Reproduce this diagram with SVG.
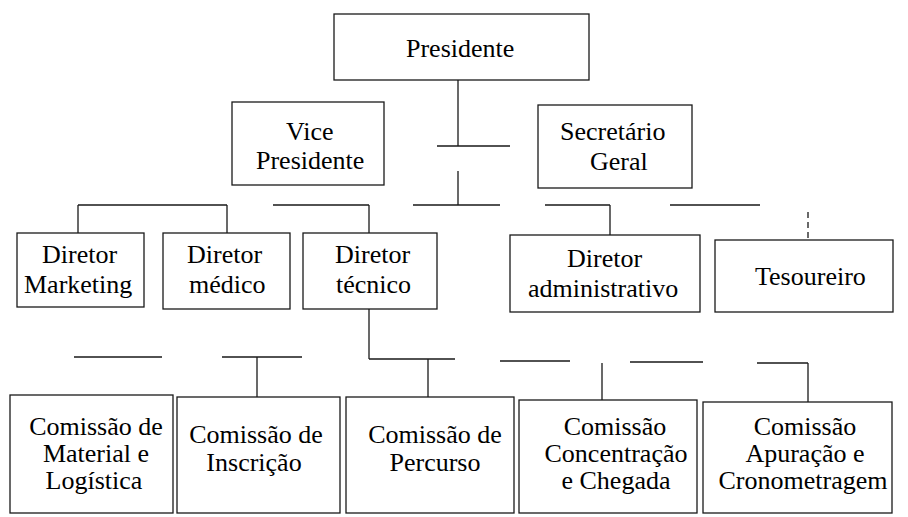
<svg xmlns="http://www.w3.org/2000/svg" width="908" height="517" viewBox="0 0 908 517">
<rect width="908" height="517" fill="#ffffff"/>
<g id="connectors" fill="none" stroke="#1a1a1a" stroke-width="1.3">
<path d="M458 80V146M437 146H510M458 171V205M413 205H500"/>
<path d="M78 205H227M78 205V233M227 205V233M273 205H369M369 205V233"/>
<path d="M545 205H610M610 205V235M670 205H760"/>
<path d="M808 212V240" stroke-dasharray="6 4"/>
<path d="M369 309V359M369 359H455M74 357H162M222 357H302M257 357V397M428 359V397"/>
<path d="M500 361H570M602 363V400M630 362H703M757 363H808M808 363V402"/>
</g>
<g id="presidente">
<rect x="334" y="14" width="255" height="66" fill="none" stroke="#1a1a1a" stroke-width="1.3"/>
<text x="406" y="57" font-family="Liberation Serif" font-size="26">Presidente</text>
</g>
<g id="vice-presidente">
<rect x="232" y="102" width="152" height="83" fill="none" stroke="#1a1a1a" stroke-width="1.3"/>
<text x="286" y="140" font-family="Liberation Serif" font-size="26">Vice</text>
<text x="256" y="169" font-family="Liberation Serif" font-size="26">Presidente</text>
</g>
<g id="secretario-geral">
<rect x="538" y="105" width="154" height="83" fill="none" stroke="#1a1a1a" stroke-width="1.3"/>
<text x="560" y="140" font-family="Liberation Serif" font-size="26">Secretário</text>
<text x="590" y="170" font-family="Liberation Serif" font-size="26">Geral</text>
</g>
<g id="diretor-marketing">
<rect x="17" y="233" width="127" height="74" fill="none" stroke="#1a1a1a" stroke-width="1.3"/>
<text x="42" y="263" font-family="Liberation Serif" font-size="26">Diretor</text>
<text x="24" y="293" font-family="Liberation Serif" font-size="26">Marketing</text>
</g>
<g id="diretor-medico">
<rect x="163" y="233" width="127" height="76" fill="none" stroke="#1a1a1a" stroke-width="1.3"/>
<text x="187" y="263" font-family="Liberation Serif" font-size="26">Diretor</text>
<text x="189" y="293" font-family="Liberation Serif" font-size="26">médico</text>
</g>
<g id="diretor-tecnico">
<rect x="303" y="233" width="134" height="76" fill="none" stroke="#1a1a1a" stroke-width="1.3"/>
<text x="335" y="263" font-family="Liberation Serif" font-size="26">Diretor</text>
<text x="336" y="293" font-family="Liberation Serif" font-size="26">técnico</text>
</g>
<g id="diretor-administrativo">
<rect x="510" y="235" width="190" height="77" fill="none" stroke="#1a1a1a" stroke-width="1.3"/>
<text x="567" y="267" font-family="Liberation Serif" font-size="26">Diretor</text>
<text x="528" y="297" font-family="Liberation Serif" font-size="26">administrativo</text>
</g>
<g id="tesoureiro">
<rect x="715" y="240" width="178" height="72" fill="none" stroke="#1a1a1a" stroke-width="1.3"/>
<text x="755" y="285" font-family="Liberation Serif" font-size="26">Tesoureiro</text>
</g>
<g id="comissao-material">
<rect x="10" y="395" width="163" height="118" fill="none" stroke="#1a1a1a" stroke-width="1.3"/>
<text x="96" y="435" font-family="Liberation Serif" font-size="26" text-anchor="middle">Comissão de</text>
<text x="96" y="462" font-family="Liberation Serif" font-size="26" text-anchor="middle">Material e</text>
<text x="94" y="489" font-family="Liberation Serif" font-size="26" text-anchor="middle">Logística</text>
</g>
<g id="comissao-inscricao">
<rect x="177" y="397" width="163" height="116" fill="none" stroke="#1a1a1a" stroke-width="1.3"/>
<text x="256" y="443" font-family="Liberation Serif" font-size="26" text-anchor="middle">Comissão de</text>
<text x="254" y="471" font-family="Liberation Serif" font-size="26" text-anchor="middle">Inscrição</text>
</g>
<g id="comissao-percurso">
<rect x="346" y="397" width="168" height="116" fill="none" stroke="#1a1a1a" stroke-width="1.3"/>
<text x="435" y="443" font-family="Liberation Serif" font-size="26" text-anchor="middle">Comissão de</text>
<text x="435" y="471" font-family="Liberation Serif" font-size="26" text-anchor="middle">Percurso</text>
</g>
<g id="comissao-concentracao">
<rect x="519" y="400" width="178" height="113" fill="none" stroke="#1a1a1a" stroke-width="1.3"/>
<text x="615" y="435" font-family="Liberation Serif" font-size="26" text-anchor="middle">Comissão</text>
<text x="616" y="462" font-family="Liberation Serif" font-size="26" text-anchor="middle">Concentração</text>
<text x="616" y="489" font-family="Liberation Serif" font-size="26" text-anchor="middle">e Chegada</text>
</g>
<g id="comissao-apuracao">
<rect x="703" y="402" width="189" height="111" fill="none" stroke="#1a1a1a" stroke-width="1.3"/>
<text x="805" y="435" font-family="Liberation Serif" font-size="26" text-anchor="middle">Comissão</text>
<text x="805" y="462" font-family="Liberation Serif" font-size="26" text-anchor="middle">Apuração e</text>
<text x="803" y="489" font-family="Liberation Serif" font-size="26" text-anchor="middle">Cronometragem</text>
</g>
</svg>
